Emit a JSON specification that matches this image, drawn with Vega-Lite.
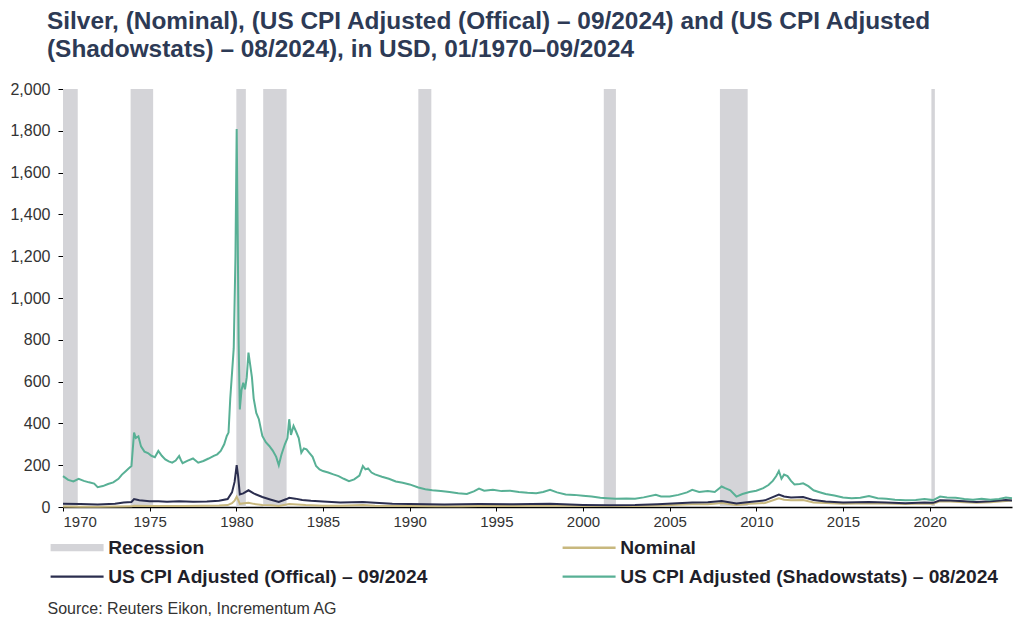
{
  "$schema": "https://vega.github.io/schema/vega-lite/v6.json",
  "width": 949,
  "height": 418,
  "autosize": {"type": "none"},
  "padding": {"left": 63, "top": 89, "right": 12, "bottom": 115},
  "background": "white",
  "config": {
    "view": {"stroke": null},
    "font": "Liberation Sans"
  },
  "title": {
    "text": ["Silver, (Nominal), (US CPI Adjusted (Offical) – 09/2024) and (US CPI Adjusted", "(Shadowstats) – 08/2024), in USD, 01/1970–09/2024"],
    "anchor": "start",
    "frame": "group",
    "dx": -16,
    "offset": 19,
    "fontSize": 24.4,
    "lineHeight": 28,
    "fontWeight": "bold",
    "font": "Liberation Sans",
    "color": "#2d3a55"
  },
  "datasets": {
    "rec": [
      {"series": "Recession", "start": 1970.0, "end": 1970.85},
      {"series": "Recession", "start": 1973.9, "end": 1975.2},
      {"series": "Recession", "start": 1980.0, "end": 1980.55},
      {"series": "Recession", "start": 1981.55, "end": 1982.9},
      {"series": "Recession", "start": 1990.5, "end": 1991.25},
      {"series": "Recession", "start": 2001.2, "end": 2001.9},
      {"series": "Recession", "start": 2007.9, "end": 2009.5},
      {"series": "Recession", "start": 2020.1, "end": 2020.3}
    ],
    "lines": [
      {"series": "Nominal", "year": 1970.0, "value": 1.8},
      {"series": "Nominal", "year": 1971.0, "value": 1.6},
      {"series": "Nominal", "year": 1972.0, "value": 1.5},
      {"series": "Nominal", "year": 1973.0, "value": 2.2},
      {"series": "Nominal", "year": 1973.95, "value": 3},
      {"series": "Nominal", "year": 1974.1, "value": 5.9},
      {"series": "Nominal", "year": 1975.0, "value": 4.4},
      {"series": "Nominal", "year": 1976.0, "value": 4.3},
      {"series": "Nominal", "year": 1977.0, "value": 4.5},
      {"series": "Nominal", "year": 1978.0, "value": 5.4},
      {"series": "Nominal", "year": 1979.0, "value": 7},
      {"series": "Nominal", "year": 1979.5, "value": 9},
      {"series": "Nominal", "year": 1979.75, "value": 18},
      {"series": "Nominal", "year": 1979.9, "value": 30},
      {"series": "Nominal", "year": 1980.02, "value": 49},
      {"series": "Nominal", "year": 1980.1, "value": 35},
      {"series": "Nominal", "year": 1980.2, "value": 15},
      {"series": "Nominal", "year": 1980.7, "value": 20},
      {"series": "Nominal", "year": 1981.0, "value": 15},
      {"series": "Nominal", "year": 1981.5, "value": 10},
      {"series": "Nominal", "year": 1982.0, "value": 8},
      {"series": "Nominal", "year": 1982.45, "value": 5},
      {"series": "Nominal", "year": 1983.05, "value": 14},
      {"series": "Nominal", "year": 1983.5, "value": 12},
      {"series": "Nominal", "year": 1984.0, "value": 9},
      {"series": "Nominal", "year": 1985.0, "value": 6.2},
      {"series": "Nominal", "year": 1986.0, "value": 5.5},
      {"series": "Nominal", "year": 1987.3, "value": 9},
      {"series": "Nominal", "year": 1988.0, "value": 6.5},
      {"series": "Nominal", "year": 1990.0, "value": 4.8},
      {"series": "Nominal", "year": 1991.5, "value": 4},
      {"series": "Nominal", "year": 1993.0, "value": 3.9},
      {"series": "Nominal", "year": 1994.0, "value": 5.3},
      {"series": "Nominal", "year": 1996.0, "value": 5},
      {"series": "Nominal", "year": 1998.1, "value": 7},
      {"series": "Nominal", "year": 2000.0, "value": 5},
      {"series": "Nominal", "year": 2001.5, "value": 4.3},
      {"series": "Nominal", "year": 2003.0, "value": 4.8},
      {"series": "Nominal", "year": 2004.3, "value": 7.5},
      {"series": "Nominal", "year": 2006.3, "value": 13},
      {"series": "Nominal", "year": 2007.2, "value": 13},
      {"series": "Nominal", "year": 2008.0, "value": 19},
      {"series": "Nominal", "year": 2008.85, "value": 10},
      {"series": "Nominal", "year": 2009.6, "value": 15},
      {"series": "Nominal", "year": 2010.5, "value": 19},
      {"series": "Nominal", "year": 2011.3, "value": 42},
      {"series": "Nominal", "year": 2011.6, "value": 35},
      {"series": "Nominal", "year": 2012.0, "value": 32},
      {"series": "Nominal", "year": 2012.7, "value": 33},
      {"series": "Nominal", "year": 2013.3, "value": 22},
      {"series": "Nominal", "year": 2014.0, "value": 19},
      {"series": "Nominal", "year": 2015.0, "value": 15.5},
      {"series": "Nominal", "year": 2016.5, "value": 18},
      {"series": "Nominal", "year": 2017.5, "value": 16.5},
      {"series": "Nominal", "year": 2018.6, "value": 14.5},
      {"series": "Nominal", "year": 2019.7, "value": 17},
      {"series": "Nominal", "year": 2020.2, "value": 15},
      {"series": "Nominal", "year": 2020.6, "value": 27},
      {"series": "Nominal", "year": 2021.2, "value": 26},
      {"series": "Nominal", "year": 2022.0, "value": 23},
      {"series": "Nominal", "year": 2022.7, "value": 20},
      {"series": "Nominal", "year": 2023.5, "value": 23},
      {"series": "Nominal", "year": 2024.4, "value": 29},
      {"series": "Nominal", "year": 2024.75, "value": 31},

      {"series": "US CPI Adjusted (Offical) – 09/2024", "year": 1970.0, "value": 15},
      {"series": "US CPI Adjusted (Offical) – 09/2024", "year": 1971.0, "value": 14},
      {"series": "US CPI Adjusted (Offical) – 09/2024", "year": 1972.0, "value": 12},
      {"series": "US CPI Adjusted (Offical) – 09/2024", "year": 1973.0, "value": 16},
      {"series": "US CPI Adjusted (Offical) – 09/2024", "year": 1973.5, "value": 22},
      {"series": "US CPI Adjusted (Offical) – 09/2024", "year": 1973.95, "value": 24},
      {"series": "US CPI Adjusted (Offical) – 09/2024", "year": 1974.1, "value": 38},
      {"series": "US CPI Adjusted (Offical) – 09/2024", "year": 1974.4, "value": 32},
      {"series": "US CPI Adjusted (Offical) – 09/2024", "year": 1975.0, "value": 28},
      {"series": "US CPI Adjusted (Offical) – 09/2024", "year": 1975.5, "value": 27},
      {"series": "US CPI Adjusted (Offical) – 09/2024", "year": 1976.0, "value": 25},
      {"series": "US CPI Adjusted (Offical) – 09/2024", "year": 1976.7, "value": 27},
      {"series": "US CPI Adjusted (Offical) – 09/2024", "year": 1977.5, "value": 25},
      {"series": "US CPI Adjusted (Offical) – 09/2024", "year": 1978.3, "value": 26},
      {"series": "US CPI Adjusted (Offical) – 09/2024", "year": 1979.0, "value": 30},
      {"series": "US CPI Adjusted (Offical) – 09/2024", "year": 1979.5, "value": 38},
      {"series": "US CPI Adjusted (Offical) – 09/2024", "year": 1979.75, "value": 70},
      {"series": "US CPI Adjusted (Offical) – 09/2024", "year": 1979.9, "value": 120},
      {"series": "US CPI Adjusted (Offical) – 09/2024", "year": 1980.02, "value": 200},
      {"series": "US CPI Adjusted (Offical) – 09/2024", "year": 1980.1, "value": 150},
      {"series": "US CPI Adjusted (Offical) – 09/2024", "year": 1980.2, "value": 60},
      {"series": "US CPI Adjusted (Offical) – 09/2024", "year": 1980.4, "value": 65},
      {"series": "US CPI Adjusted (Offical) – 09/2024", "year": 1980.7, "value": 80},
      {"series": "US CPI Adjusted (Offical) – 09/2024", "year": 1981.0, "value": 65},
      {"series": "US CPI Adjusted (Offical) – 09/2024", "year": 1981.5, "value": 48},
      {"series": "US CPI Adjusted (Offical) – 09/2024", "year": 1982.0, "value": 35},
      {"series": "US CPI Adjusted (Offical) – 09/2024", "year": 1982.45, "value": 24},
      {"series": "US CPI Adjusted (Offical) – 09/2024", "year": 1982.9, "value": 38},
      {"series": "US CPI Adjusted (Offical) – 09/2024", "year": 1983.05, "value": 44},
      {"series": "US CPI Adjusted (Offical) – 09/2024", "year": 1983.4, "value": 40},
      {"series": "US CPI Adjusted (Offical) – 09/2024", "year": 1983.8, "value": 34},
      {"series": "US CPI Adjusted (Offical) – 09/2024", "year": 1984.3, "value": 30},
      {"series": "US CPI Adjusted (Offical) – 09/2024", "year": 1985.0, "value": 26},
      {"series": "US CPI Adjusted (Offical) – 09/2024", "year": 1986.0, "value": 21},
      {"series": "US CPI Adjusted (Offical) – 09/2024", "year": 1987.3, "value": 24},
      {"series": "US CPI Adjusted (Offical) – 09/2024", "year": 1988.0, "value": 20},
      {"series": "US CPI Adjusted (Offical) – 09/2024", "year": 1989.0, "value": 16},
      {"series": "US CPI Adjusted (Offical) – 09/2024", "year": 1990.0, "value": 14},
      {"series": "US CPI Adjusted (Offical) – 09/2024", "year": 1992.0, "value": 12},
      {"series": "US CPI Adjusted (Offical) – 09/2024", "year": 1994.0, "value": 14},
      {"series": "US CPI Adjusted (Offical) – 09/2024", "year": 1996.0, "value": 13},
      {"series": "US CPI Adjusted (Offical) – 09/2024", "year": 1998.1, "value": 15},
      {"series": "US CPI Adjusted (Offical) – 09/2024", "year": 2000.0, "value": 10},
      {"series": "US CPI Adjusted (Offical) – 09/2024", "year": 2001.5, "value": 8},
      {"series": "US CPI Adjusted (Offical) – 09/2024", "year": 2003.0, "value": 9},
      {"series": "US CPI Adjusted (Offical) – 09/2024", "year": 2004.3, "value": 13},
      {"series": "US CPI Adjusted (Offical) – 09/2024", "year": 2006.3, "value": 22},
      {"series": "US CPI Adjusted (Offical) – 09/2024", "year": 2007.2, "value": 23},
      {"series": "US CPI Adjusted (Offical) – 09/2024", "year": 2008.0, "value": 29},
      {"series": "US CPI Adjusted (Offical) – 09/2024", "year": 2008.85, "value": 17},
      {"series": "US CPI Adjusted (Offical) – 09/2024", "year": 2009.6, "value": 24},
      {"series": "US CPI Adjusted (Offical) – 09/2024", "year": 2010.5, "value": 32},
      {"series": "US CPI Adjusted (Offical) – 09/2024", "year": 2011.3, "value": 60},
      {"series": "US CPI Adjusted (Offical) – 09/2024", "year": 2011.6, "value": 50},
      {"series": "US CPI Adjusted (Offical) – 09/2024", "year": 2012.0, "value": 45},
      {"series": "US CPI Adjusted (Offical) – 09/2024", "year": 2012.7, "value": 48},
      {"series": "US CPI Adjusted (Offical) – 09/2024", "year": 2013.3, "value": 33},
      {"series": "US CPI Adjusted (Offical) – 09/2024", "year": 2014.0, "value": 26},
      {"series": "US CPI Adjusted (Offical) – 09/2024", "year": 2015.0, "value": 21},
      {"series": "US CPI Adjusted (Offical) – 09/2024", "year": 2016.5, "value": 24},
      {"series": "US CPI Adjusted (Offical) – 09/2024", "year": 2017.5, "value": 21},
      {"series": "US CPI Adjusted (Offical) – 09/2024", "year": 2018.6, "value": 18},
      {"series": "US CPI Adjusted (Offical) – 09/2024", "year": 2019.7, "value": 21},
      {"series": "US CPI Adjusted (Offical) – 09/2024", "year": 2020.2, "value": 20},
      {"series": "US CPI Adjusted (Offical) – 09/2024", "year": 2020.6, "value": 32},
      {"series": "US CPI Adjusted (Offical) – 09/2024", "year": 2021.2, "value": 31},
      {"series": "US CPI Adjusted (Offical) – 09/2024", "year": 2022.0, "value": 27},
      {"series": "US CPI Adjusted (Offical) – 09/2024", "year": 2022.7, "value": 24},
      {"series": "US CPI Adjusted (Offical) – 09/2024", "year": 2023.5, "value": 27},
      {"series": "US CPI Adjusted (Offical) – 09/2024", "year": 2024.4, "value": 33},
      {"series": "US CPI Adjusted (Offical) – 09/2024", "year": 2024.75, "value": 31},

      {"series": "US CPI Adjusted (Shadowstats) – 08/2024", "year": 1970.0, "value": 148},
      {"series": "US CPI Adjusted (Shadowstats) – 08/2024", "year": 1970.3, "value": 130},
      {"series": "US CPI Adjusted (Shadowstats) – 08/2024", "year": 1970.6, "value": 122},
      {"series": "US CPI Adjusted (Shadowstats) – 08/2024", "year": 1970.9, "value": 135},
      {"series": "US CPI Adjusted (Shadowstats) – 08/2024", "year": 1971.2, "value": 125},
      {"series": "US CPI Adjusted (Shadowstats) – 08/2024", "year": 1971.5, "value": 118},
      {"series": "US CPI Adjusted (Shadowstats) – 08/2024", "year": 1971.8, "value": 112},
      {"series": "US CPI Adjusted (Shadowstats) – 08/2024", "year": 1972.0, "value": 95},
      {"series": "US CPI Adjusted (Shadowstats) – 08/2024", "year": 1972.3, "value": 100},
      {"series": "US CPI Adjusted (Shadowstats) – 08/2024", "year": 1972.6, "value": 110},
      {"series": "US CPI Adjusted (Shadowstats) – 08/2024", "year": 1972.9, "value": 118},
      {"series": "US CPI Adjusted (Shadowstats) – 08/2024", "year": 1973.2, "value": 135},
      {"series": "US CPI Adjusted (Shadowstats) – 08/2024", "year": 1973.4, "value": 155},
      {"series": "US CPI Adjusted (Shadowstats) – 08/2024", "year": 1973.6, "value": 170},
      {"series": "US CPI Adjusted (Shadowstats) – 08/2024", "year": 1973.8, "value": 185},
      {"series": "US CPI Adjusted (Shadowstats) – 08/2024", "year": 1973.95, "value": 196},
      {"series": "US CPI Adjusted (Shadowstats) – 08/2024", "year": 1974.1, "value": 356},
      {"series": "US CPI Adjusted (Shadowstats) – 08/2024", "year": 1974.2, "value": 330},
      {"series": "US CPI Adjusted (Shadowstats) – 08/2024", "year": 1974.35, "value": 338},
      {"series": "US CPI Adjusted (Shadowstats) – 08/2024", "year": 1974.5, "value": 290},
      {"series": "US CPI Adjusted (Shadowstats) – 08/2024", "year": 1974.7, "value": 265},
      {"series": "US CPI Adjusted (Shadowstats) – 08/2024", "year": 1974.9, "value": 258},
      {"series": "US CPI Adjusted (Shadowstats) – 08/2024", "year": 1975.1, "value": 245},
      {"series": "US CPI Adjusted (Shadowstats) – 08/2024", "year": 1975.3, "value": 238},
      {"series": "US CPI Adjusted (Shadowstats) – 08/2024", "year": 1975.5, "value": 268},
      {"series": "US CPI Adjusted (Shadowstats) – 08/2024", "year": 1975.7, "value": 245},
      {"series": "US CPI Adjusted (Shadowstats) – 08/2024", "year": 1975.9, "value": 228},
      {"series": "US CPI Adjusted (Shadowstats) – 08/2024", "year": 1976.1, "value": 218},
      {"series": "US CPI Adjusted (Shadowstats) – 08/2024", "year": 1976.3, "value": 212},
      {"series": "US CPI Adjusted (Shadowstats) – 08/2024", "year": 1976.5, "value": 222},
      {"series": "US CPI Adjusted (Shadowstats) – 08/2024", "year": 1976.7, "value": 244},
      {"series": "US CPI Adjusted (Shadowstats) – 08/2024", "year": 1976.8, "value": 225},
      {"series": "US CPI Adjusted (Shadowstats) – 08/2024", "year": 1976.9, "value": 210},
      {"series": "US CPI Adjusted (Shadowstats) – 08/2024", "year": 1977.2, "value": 222},
      {"series": "US CPI Adjusted (Shadowstats) – 08/2024", "year": 1977.5, "value": 232},
      {"series": "US CPI Adjusted (Shadowstats) – 08/2024", "year": 1977.8, "value": 212},
      {"series": "US CPI Adjusted (Shadowstats) – 08/2024", "year": 1978.1, "value": 220},
      {"series": "US CPI Adjusted (Shadowstats) – 08/2024", "year": 1978.4, "value": 232},
      {"series": "US CPI Adjusted (Shadowstats) – 08/2024", "year": 1978.7, "value": 245},
      {"series": "US CPI Adjusted (Shadowstats) – 08/2024", "year": 1978.9, "value": 252},
      {"series": "US CPI Adjusted (Shadowstats) – 08/2024", "year": 1979.1, "value": 268},
      {"series": "US CPI Adjusted (Shadowstats) – 08/2024", "year": 1979.3, "value": 300},
      {"series": "US CPI Adjusted (Shadowstats) – 08/2024", "year": 1979.45, "value": 340},
      {"series": "US CPI Adjusted (Shadowstats) – 08/2024", "year": 1979.55, "value": 356},
      {"series": "US CPI Adjusted (Shadowstats) – 08/2024", "year": 1979.65, "value": 520},
      {"series": "US CPI Adjusted (Shadowstats) – 08/2024", "year": 1979.75, "value": 640},
      {"series": "US CPI Adjusted (Shadowstats) – 08/2024", "year": 1979.85, "value": 760},
      {"series": "US CPI Adjusted (Shadowstats) – 08/2024", "year": 1979.95, "value": 1200},
      {"series": "US CPI Adjusted (Shadowstats) – 08/2024", "year": 1980.02, "value": 1808},
      {"series": "US CPI Adjusted (Shadowstats) – 08/2024", "year": 1980.08, "value": 1300},
      {"series": "US CPI Adjusted (Shadowstats) – 08/2024", "year": 1980.13, "value": 800},
      {"series": "US CPI Adjusted (Shadowstats) – 08/2024", "year": 1980.2, "value": 467},
      {"series": "US CPI Adjusted (Shadowstats) – 08/2024", "year": 1980.3, "value": 560},
      {"series": "US CPI Adjusted (Shadowstats) – 08/2024", "year": 1980.4, "value": 595},
      {"series": "US CPI Adjusted (Shadowstats) – 08/2024", "year": 1980.5, "value": 563},
      {"series": "US CPI Adjusted (Shadowstats) – 08/2024", "year": 1980.6, "value": 620},
      {"series": "US CPI Adjusted (Shadowstats) – 08/2024", "year": 1980.7, "value": 739},
      {"series": "US CPI Adjusted (Shadowstats) – 08/2024", "year": 1980.8, "value": 680},
      {"series": "US CPI Adjusted (Shadowstats) – 08/2024", "year": 1980.9, "value": 620},
      {"series": "US CPI Adjusted (Shadowstats) – 08/2024", "year": 1981.0, "value": 520},
      {"series": "US CPI Adjusted (Shadowstats) – 08/2024", "year": 1981.15, "value": 450},
      {"series": "US CPI Adjusted (Shadowstats) – 08/2024", "year": 1981.3, "value": 420},
      {"series": "US CPI Adjusted (Shadowstats) – 08/2024", "year": 1981.5, "value": 340},
      {"series": "US CPI Adjusted (Shadowstats) – 08/2024", "year": 1981.7, "value": 310},
      {"series": "US CPI Adjusted (Shadowstats) – 08/2024", "year": 1981.9, "value": 292},
      {"series": "US CPI Adjusted (Shadowstats) – 08/2024", "year": 1982.1, "value": 270},
      {"series": "US CPI Adjusted (Shadowstats) – 08/2024", "year": 1982.3, "value": 240},
      {"series": "US CPI Adjusted (Shadowstats) – 08/2024", "year": 1982.45, "value": 200},
      {"series": "US CPI Adjusted (Shadowstats) – 08/2024", "year": 1982.6, "value": 250},
      {"series": "US CPI Adjusted (Shadowstats) – 08/2024", "year": 1982.8, "value": 300},
      {"series": "US CPI Adjusted (Shadowstats) – 08/2024", "year": 1982.95, "value": 330},
      {"series": "US CPI Adjusted (Shadowstats) – 08/2024", "year": 1983.05, "value": 420},
      {"series": "US CPI Adjusted (Shadowstats) – 08/2024", "year": 1983.15, "value": 345},
      {"series": "US CPI Adjusted (Shadowstats) – 08/2024", "year": 1983.3, "value": 388},
      {"series": "US CPI Adjusted (Shadowstats) – 08/2024", "year": 1983.45, "value": 360},
      {"series": "US CPI Adjusted (Shadowstats) – 08/2024", "year": 1983.6, "value": 330},
      {"series": "US CPI Adjusted (Shadowstats) – 08/2024", "year": 1983.75, "value": 260},
      {"series": "US CPI Adjusted (Shadowstats) – 08/2024", "year": 1983.9, "value": 280},
      {"series": "US CPI Adjusted (Shadowstats) – 08/2024", "year": 1984.05, "value": 276},
      {"series": "US CPI Adjusted (Shadowstats) – 08/2024", "year": 1984.2, "value": 260},
      {"series": "US CPI Adjusted (Shadowstats) – 08/2024", "year": 1984.4, "value": 240},
      {"series": "US CPI Adjusted (Shadowstats) – 08/2024", "year": 1984.6, "value": 196},
      {"series": "US CPI Adjusted (Shadowstats) – 08/2024", "year": 1984.8, "value": 180},
      {"series": "US CPI Adjusted (Shadowstats) – 08/2024", "year": 1985.0, "value": 172},
      {"series": "US CPI Adjusted (Shadowstats) – 08/2024", "year": 1985.3, "value": 165},
      {"series": "US CPI Adjusted (Shadowstats) – 08/2024", "year": 1985.6, "value": 156},
      {"series": "US CPI Adjusted (Shadowstats) – 08/2024", "year": 1985.9, "value": 148},
      {"series": "US CPI Adjusted (Shadowstats) – 08/2024", "year": 1986.2, "value": 135},
      {"series": "US CPI Adjusted (Shadowstats) – 08/2024", "year": 1986.5, "value": 124},
      {"series": "US CPI Adjusted (Shadowstats) – 08/2024", "year": 1986.8, "value": 132},
      {"series": "US CPI Adjusted (Shadowstats) – 08/2024", "year": 1987.1, "value": 150},
      {"series": "US CPI Adjusted (Shadowstats) – 08/2024", "year": 1987.3, "value": 196},
      {"series": "US CPI Adjusted (Shadowstats) – 08/2024", "year": 1987.45, "value": 180},
      {"series": "US CPI Adjusted (Shadowstats) – 08/2024", "year": 1987.6, "value": 185},
      {"series": "US CPI Adjusted (Shadowstats) – 08/2024", "year": 1987.8, "value": 165},
      {"series": "US CPI Adjusted (Shadowstats) – 08/2024", "year": 1988.0, "value": 156},
      {"series": "US CPI Adjusted (Shadowstats) – 08/2024", "year": 1988.4, "value": 145},
      {"series": "US CPI Adjusted (Shadowstats) – 08/2024", "year": 1988.8, "value": 135},
      {"series": "US CPI Adjusted (Shadowstats) – 08/2024", "year": 1989.2, "value": 122},
      {"series": "US CPI Adjusted (Shadowstats) – 08/2024", "year": 1989.6, "value": 116},
      {"series": "US CPI Adjusted (Shadowstats) – 08/2024", "year": 1990.0, "value": 108},
      {"series": "US CPI Adjusted (Shadowstats) – 08/2024", "year": 1990.5, "value": 93},
      {"series": "US CPI Adjusted (Shadowstats) – 08/2024", "year": 1990.9, "value": 85},
      {"series": "US CPI Adjusted (Shadowstats) – 08/2024", "year": 1991.3, "value": 80},
      {"series": "US CPI Adjusted (Shadowstats) – 08/2024", "year": 1991.8, "value": 76},
      {"series": "US CPI Adjusted (Shadowstats) – 08/2024", "year": 1992.3, "value": 72},
      {"series": "US CPI Adjusted (Shadowstats) – 08/2024", "year": 1992.8, "value": 66},
      {"series": "US CPI Adjusted (Shadowstats) – 08/2024", "year": 1993.3, "value": 62},
      {"series": "US CPI Adjusted (Shadowstats) – 08/2024", "year": 1993.7, "value": 75},
      {"series": "US CPI Adjusted (Shadowstats) – 08/2024", "year": 1994.0, "value": 88},
      {"series": "US CPI Adjusted (Shadowstats) – 08/2024", "year": 1994.3, "value": 78},
      {"series": "US CPI Adjusted (Shadowstats) – 08/2024", "year": 1994.8, "value": 82},
      {"series": "US CPI Adjusted (Shadowstats) – 08/2024", "year": 1995.3, "value": 76},
      {"series": "US CPI Adjusted (Shadowstats) – 08/2024", "year": 1995.8, "value": 78},
      {"series": "US CPI Adjusted (Shadowstats) – 08/2024", "year": 1996.3, "value": 72},
      {"series": "US CPI Adjusted (Shadowstats) – 08/2024", "year": 1996.8, "value": 68},
      {"series": "US CPI Adjusted (Shadowstats) – 08/2024", "year": 1997.3, "value": 66},
      {"series": "US CPI Adjusted (Shadowstats) – 08/2024", "year": 1997.7, "value": 72},
      {"series": "US CPI Adjusted (Shadowstats) – 08/2024", "year": 1998.1, "value": 82},
      {"series": "US CPI Adjusted (Shadowstats) – 08/2024", "year": 1998.5, "value": 70},
      {"series": "US CPI Adjusted (Shadowstats) – 08/2024", "year": 1999.0, "value": 60},
      {"series": "US CPI Adjusted (Shadowstats) – 08/2024", "year": 1999.5, "value": 58},
      {"series": "US CPI Adjusted (Shadowstats) – 08/2024", "year": 2000.0, "value": 54},
      {"series": "US CPI Adjusted (Shadowstats) – 08/2024", "year": 2000.5, "value": 50},
      {"series": "US CPI Adjusted (Shadowstats) – 08/2024", "year": 2001.0, "value": 44},
      {"series": "US CPI Adjusted (Shadowstats) – 08/2024", "year": 2001.4, "value": 42},
      {"series": "US CPI Adjusted (Shadowstats) – 08/2024", "year": 2001.9, "value": 40},
      {"series": "US CPI Adjusted (Shadowstats) – 08/2024", "year": 2002.5, "value": 41},
      {"series": "US CPI Adjusted (Shadowstats) – 08/2024", "year": 2003.0, "value": 40},
      {"series": "US CPI Adjusted (Shadowstats) – 08/2024", "year": 2003.5, "value": 46},
      {"series": "US CPI Adjusted (Shadowstats) – 08/2024", "year": 2004.2, "value": 58},
      {"series": "US CPI Adjusted (Shadowstats) – 08/2024", "year": 2004.5, "value": 50},
      {"series": "US CPI Adjusted (Shadowstats) – 08/2024", "year": 2005.0, "value": 50},
      {"series": "US CPI Adjusted (Shadowstats) – 08/2024", "year": 2005.5, "value": 58},
      {"series": "US CPI Adjusted (Shadowstats) – 08/2024", "year": 2006.0, "value": 70},
      {"series": "US CPI Adjusted (Shadowstats) – 08/2024", "year": 2006.3, "value": 82},
      {"series": "US CPI Adjusted (Shadowstats) – 08/2024", "year": 2006.7, "value": 72},
      {"series": "US CPI Adjusted (Shadowstats) – 08/2024", "year": 2007.2, "value": 76},
      {"series": "US CPI Adjusted (Shadowstats) – 08/2024", "year": 2007.6, "value": 72},
      {"series": "US CPI Adjusted (Shadowstats) – 08/2024", "year": 2008.0, "value": 98},
      {"series": "US CPI Adjusted (Shadowstats) – 08/2024", "year": 2008.2, "value": 90},
      {"series": "US CPI Adjusted (Shadowstats) – 08/2024", "year": 2008.5, "value": 80},
      {"series": "US CPI Adjusted (Shadowstats) – 08/2024", "year": 2008.85, "value": 50},
      {"series": "US CPI Adjusted (Shadowstats) – 08/2024", "year": 2009.2, "value": 62},
      {"series": "US CPI Adjusted (Shadowstats) – 08/2024", "year": 2009.6, "value": 72},
      {"series": "US CPI Adjusted (Shadowstats) – 08/2024", "year": 2010.0, "value": 78},
      {"series": "US CPI Adjusted (Shadowstats) – 08/2024", "year": 2010.4, "value": 90},
      {"series": "US CPI Adjusted (Shadowstats) – 08/2024", "year": 2010.7, "value": 105},
      {"series": "US CPI Adjusted (Shadowstats) – 08/2024", "year": 2010.95, "value": 125},
      {"series": "US CPI Adjusted (Shadowstats) – 08/2024", "year": 2011.15, "value": 148},
      {"series": "US CPI Adjusted (Shadowstats) – 08/2024", "year": 2011.3, "value": 172},
      {"series": "US CPI Adjusted (Shadowstats) – 08/2024", "year": 2011.45, "value": 135},
      {"series": "US CPI Adjusted (Shadowstats) – 08/2024", "year": 2011.6, "value": 155},
      {"series": "US CPI Adjusted (Shadowstats) – 08/2024", "year": 2011.8, "value": 148},
      {"series": "US CPI Adjusted (Shadowstats) – 08/2024", "year": 2012.0, "value": 125},
      {"series": "US CPI Adjusted (Shadowstats) – 08/2024", "year": 2012.2, "value": 108},
      {"series": "US CPI Adjusted (Shadowstats) – 08/2024", "year": 2012.5, "value": 110},
      {"series": "US CPI Adjusted (Shadowstats) – 08/2024", "year": 2012.7, "value": 113},
      {"series": "US CPI Adjusted (Shadowstats) – 08/2024", "year": 2013.0, "value": 100},
      {"series": "US CPI Adjusted (Shadowstats) – 08/2024", "year": 2013.3, "value": 80},
      {"series": "US CPI Adjusted (Shadowstats) – 08/2024", "year": 2013.6, "value": 72},
      {"series": "US CPI Adjusted (Shadowstats) – 08/2024", "year": 2014.0, "value": 62},
      {"series": "US CPI Adjusted (Shadowstats) – 08/2024", "year": 2014.5, "value": 55},
      {"series": "US CPI Adjusted (Shadowstats) – 08/2024", "year": 2015.0, "value": 45},
      {"series": "US CPI Adjusted (Shadowstats) – 08/2024", "year": 2015.5, "value": 42},
      {"series": "US CPI Adjusted (Shadowstats) – 08/2024", "year": 2016.0, "value": 44},
      {"series": "US CPI Adjusted (Shadowstats) – 08/2024", "year": 2016.5, "value": 52},
      {"series": "US CPI Adjusted (Shadowstats) – 08/2024", "year": 2017.0, "value": 42},
      {"series": "US CPI Adjusted (Shadowstats) – 08/2024", "year": 2017.5, "value": 40},
      {"series": "US CPI Adjusted (Shadowstats) – 08/2024", "year": 2018.0, "value": 35},
      {"series": "US CPI Adjusted (Shadowstats) – 08/2024", "year": 2018.6, "value": 32},
      {"series": "US CPI Adjusted (Shadowstats) – 08/2024", "year": 2019.2, "value": 33},
      {"series": "US CPI Adjusted (Shadowstats) – 08/2024", "year": 2019.7, "value": 38},
      {"series": "US CPI Adjusted (Shadowstats) – 08/2024", "year": 2020.2, "value": 33},
      {"series": "US CPI Adjusted (Shadowstats) – 08/2024", "year": 2020.6, "value": 50},
      {"series": "US CPI Adjusted (Shadowstats) – 08/2024", "year": 2021.0, "value": 45},
      {"series": "US CPI Adjusted (Shadowstats) – 08/2024", "year": 2021.5, "value": 44},
      {"series": "US CPI Adjusted (Shadowstats) – 08/2024", "year": 2022.0, "value": 38},
      {"series": "US CPI Adjusted (Shadowstats) – 08/2024", "year": 2022.5, "value": 35},
      {"series": "US CPI Adjusted (Shadowstats) – 08/2024", "year": 2023.0, "value": 40},
      {"series": "US CPI Adjusted (Shadowstats) – 08/2024", "year": 2023.5, "value": 35},
      {"series": "US CPI Adjusted (Shadowstats) – 08/2024", "year": 2024.0, "value": 38},
      {"series": "US CPI Adjusted (Shadowstats) – 08/2024", "year": 2024.4, "value": 45},
      {"series": "US CPI Adjusted (Shadowstats) – 08/2024", "year": 2024.75, "value": 42}
    ]
  },
  "layer": [
    {
      "data": {"name": "rec"},
      "mark": {"type": "rect"},
      "encoding": {
        "x": {
          "field": "start", "type": "quantitative",
          "scale": {"domain": [1970, 2024.75], "nice": false, "zero": false},
          "axis": {
            "values": [1970, 1975, 1980, 1985, 1990, 1995, 2000, 2005, 2010, 2015, 2020],
            "format": "d",
            "grid": false,
            "domainColor": "#000000",
            "domainWidth": 1.5,
            "tickColor": "#000000",
            "tickSize": 4,
            "labelFontSize": 15,
            "labelColor": "#333333",
            "labelPadding": 3,
            "labelFont": "Liberation Sans",
            "title": "Source: Reuters Eikon, Incrementum AG",
            "titleAnchor": "start",
            "titleAlign": "left",
            "titleX": -16,
            "titleY": 106,
            "titleBaseline": "alphabetic",
            "titleFontSize": 16,
            "titleFontWeight": "normal",
            "titleColor": "#333333",
            "titleFont": "Liberation Sans"
          }
        },
        "x2": {"field": "end"},
        "y": {"datum": 2000, "type": "quantitative"},
        "y2": {"datum": 0},
        "color": {
          "field": "series", "type": "nominal",
          "scale": {
            "domain": ["Recession", "US CPI Adjusted (Offical) – 09/2024", "Nominal", "US CPI Adjusted (Shadowstats) – 08/2024"],
            "range": ["#d4d4d8", "#2b2e4f", "#c8b87e", "#58b095"]
          },
          "legend": {
            "title": null,
            "orient": "none",
            "legendX": -16,
            "legendY": 449,
            "columns": 2,
            "columnPadding": 130,
            "rowPadding": 9,
            "symbolSize": 144,
            "labelOffset": 42,
            "labelFontSize": 19.2,
            "labelFontWeight": "bold",
            "labelFont": "Liberation Sans",
            "labelColor": "#1f1f2a",
            "labelLimit": 600,
            "encode": {
              "symbols": {
                "update": {
                  "shape": {"signal": "datum.value === 'Recession' ? 'M-1,-0.6H7.83V0.6H-1Z' : 'M-1,-0.2H7.83V0.2H-1Z'"},
                  "fill": {"scale": "color", "field": "value"},
                  "stroke": {"value": "transparent"},
                  "strokeWidth": {"value": 0},
                  "opacity": {"value": 1},
                  "size": {"value": 144}
                }
              }
            }
          }
        }
      }
    },
    {
      "data": {"name": "lines"},
      "mark": {"type": "line", "strokeWidth": 2},
      "encoding": {
        "x": {"field": "year", "type": "quantitative"},
        "y": {
          "field": "value", "type": "quantitative",
          "scale": {"domain": [0, 2000], "nice": false},
          "axis": {
            "values": [0, 200, 400, 600, 800, 1000, 1200, 1400, 1600, 1800, 2000],
            "format": ",.0f",
            "grid": false,
            "title": null,
            "domainColor": "#000000",
            "domainWidth": 1,
            "tickColor": "#000000",
            "tickSize": 5,
            "labelPadding": 8,
            "labelFontSize": 16,
            "labelColor": "#333333",
            "labelFont": "Liberation Sans"
          }
        },
        "color": {"field": "series", "type": "nominal"}
      }
    }
  ]
}
